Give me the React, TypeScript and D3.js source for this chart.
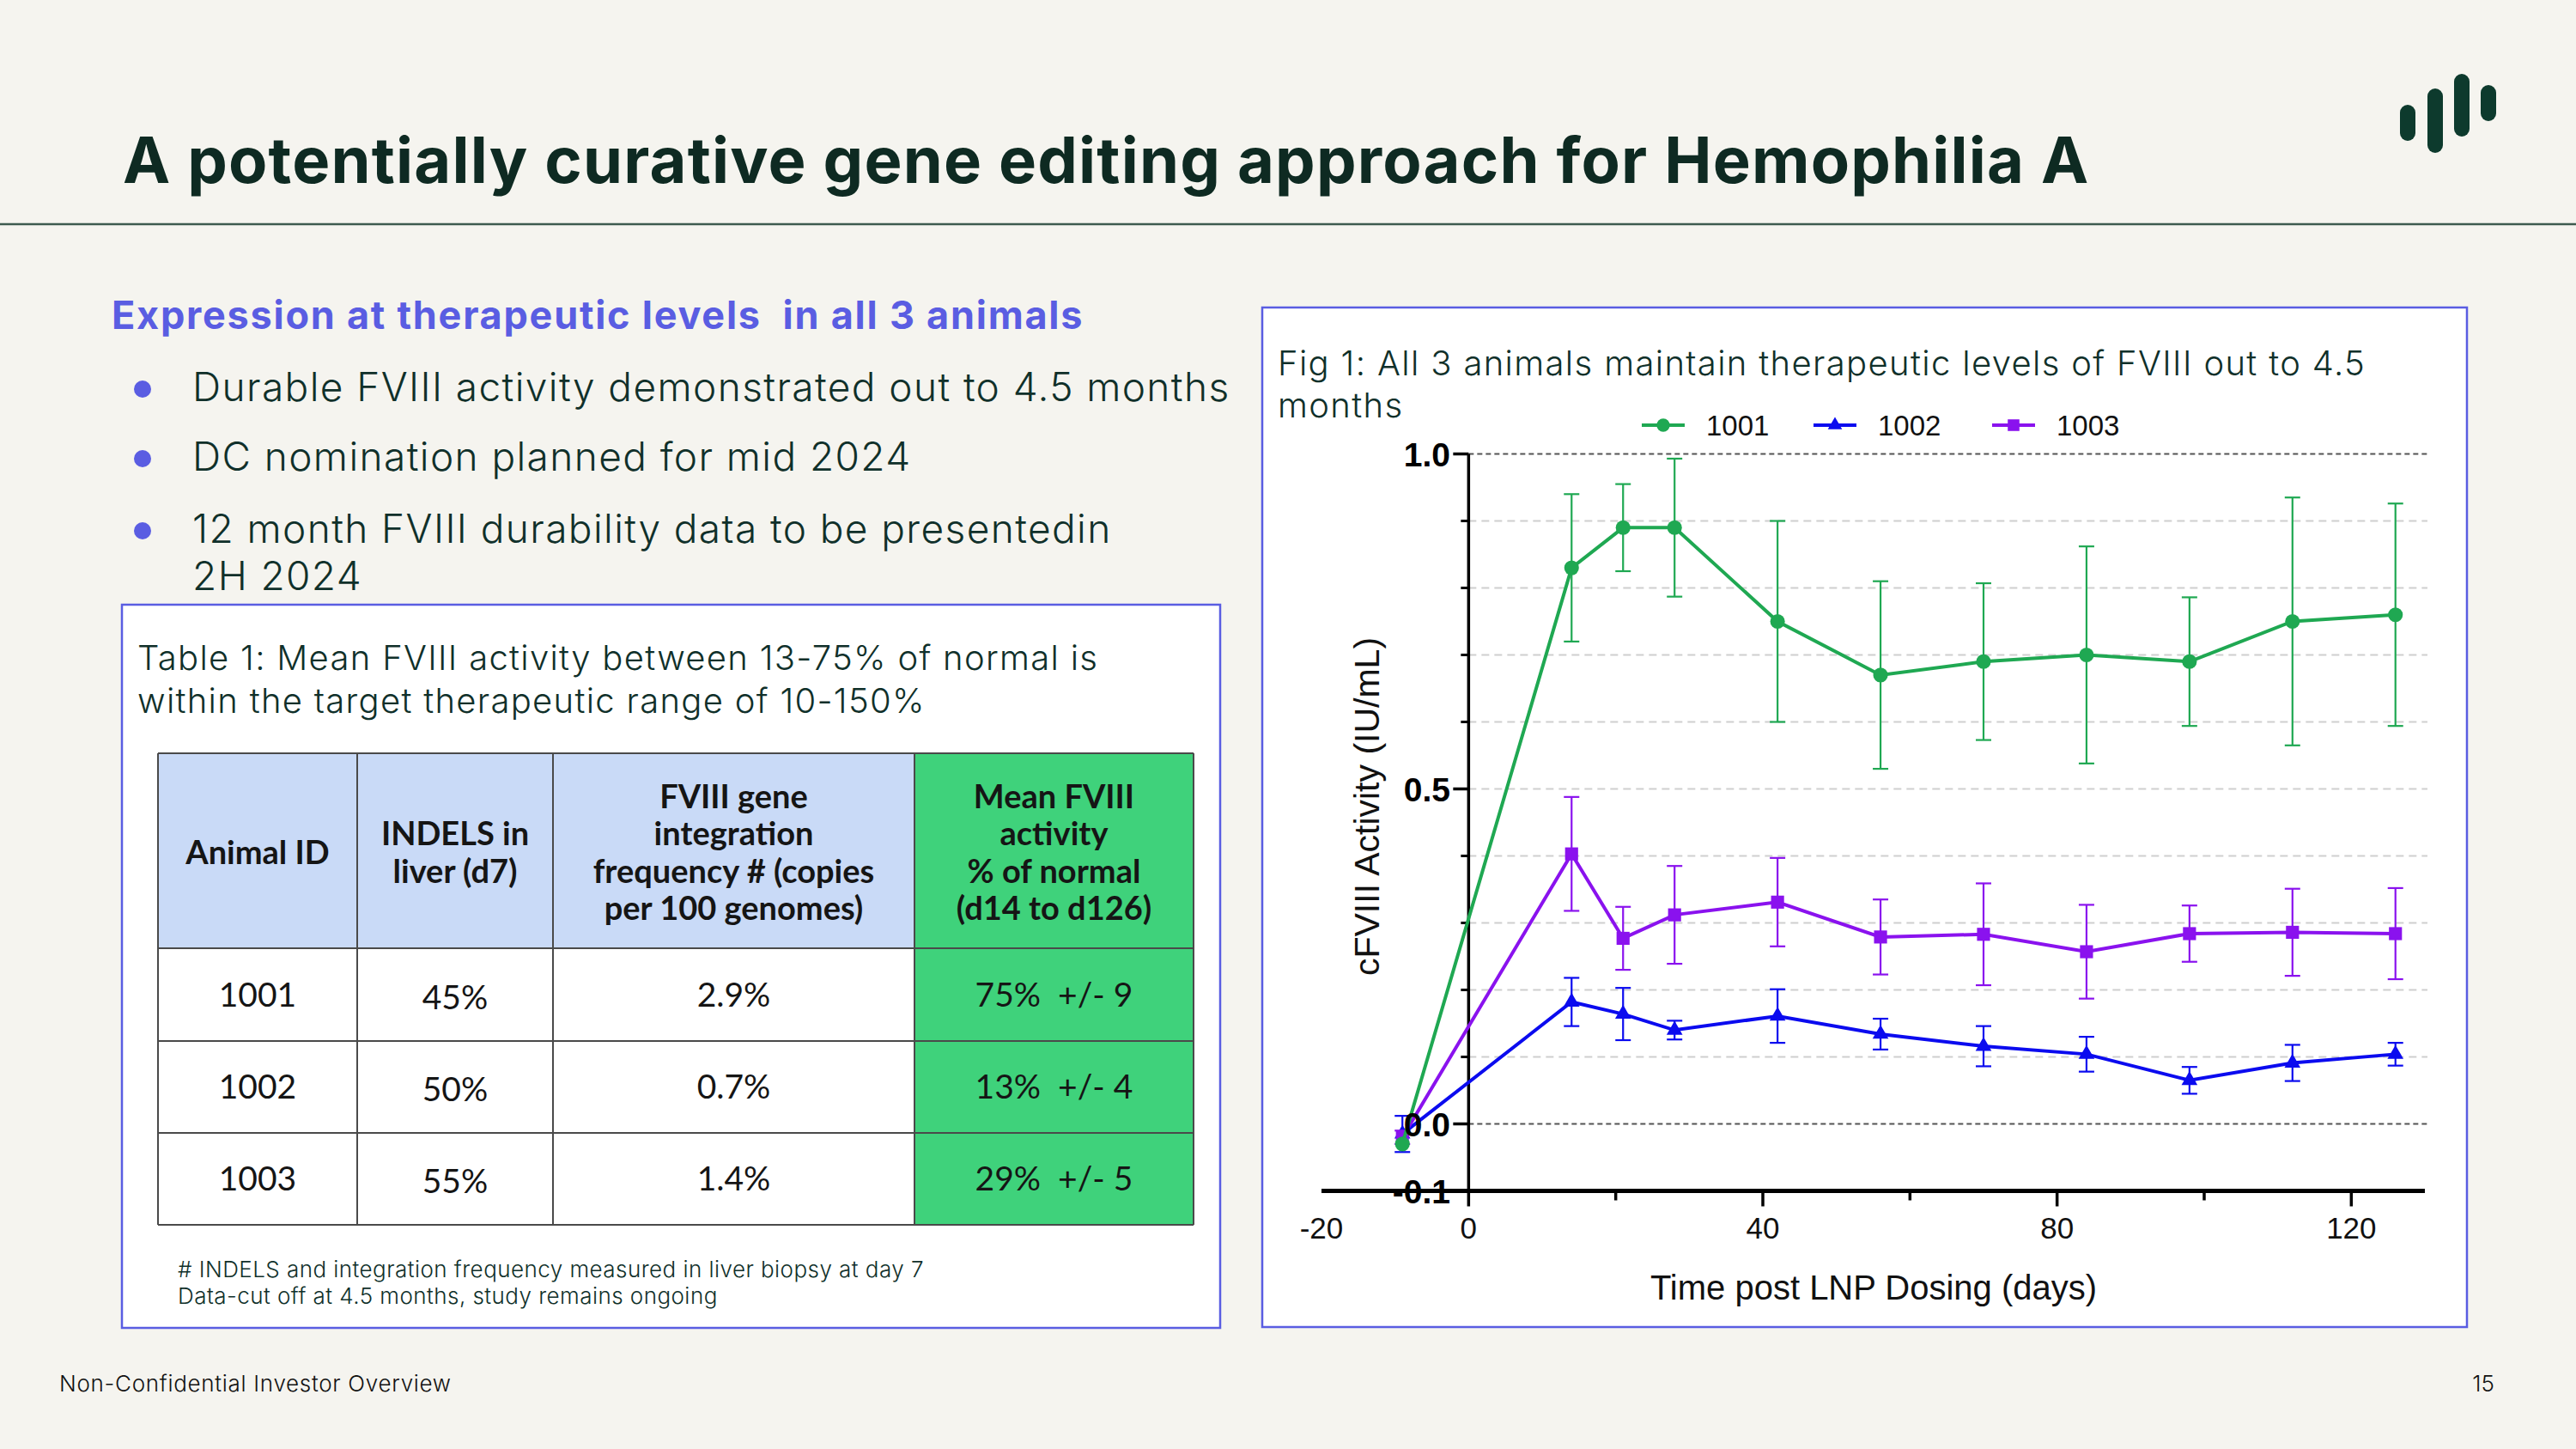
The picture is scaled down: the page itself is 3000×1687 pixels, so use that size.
import React from "react";
import * as d3 from "d3";

// ---- Figure data: cFVIII activity (IU/mL), mean ± SD per animal ----
const days = [-9, 14, 21, 28, 42, 56, 70, 84, 98, 112, 126];
const mean1001 = [-0.03, 0.83, 0.89, 0.89, 0.75, 0.67, 0.69, 0.70, 0.69, 0.75, 0.76];
const sd1001 = [0, 0.11, 0.065, 0.103, 0.15, 0.14, 0.117, 0.162, 0.096, 0.185, 0.166];
const mean1002 = [-0.015, 0.182, 0.164, 0.14, 0.161, 0.134, 0.116, 0.104, 0.065, 0.091, 0.104];
const sd1002 = [0.027, 0.036, 0.039, 0.014, 0.04, 0.023, 0.03, 0.026, 0.02, 0.027, 0.017];
const mean1003 = [-0.02, 0.403, 0.277, 0.312, 0.331, 0.279, 0.283, 0.257, 0.284, 0.286, 0.284];
const sd1003 = [0.01, 0.085, 0.047, 0.073, 0.066, 0.056, 0.076, 0.07, 0.042, 0.065, 0.068];

const seriesNames = ["1001", "1002", "1003"];
const seriesColors = ["#1fa852", "#0b0bef", "#8a12ee"];

const xMajorTicks = [0, 40, 80, 120];
const xMinorTicks = [20, 60, 100];
const yLabelTicks = [-0.1, 0.0, 0.5, 1.0];
const yGridLines = [0.1, 0.2, 0.3, 0.4, 0.5, 0.6, 0.7, 0.8, 0.9];

// ---- Table data ----
const animalIds = ["1001", "1002", "1003"];
const indels = ["45%", "50%", "55%"];
const integration = ["2.9%", "0.7%", "1.4%"];
const meanActivity = ["75%  +/- 9", "13%  +/- 4", "29%  +/- 5"];

const bullets = [
  ["Durable FVIII activity demonstrated out to 4.5 months"],
  ["DC nomination planned for mid 2024"],
  ["12 month FVIII durability data to be presentedin", "2H 2024"],
];

const SLIDE_FONT = "Inter, 'Noto Sans', sans-serif";
const TABLE_FONT = "Lato, 'Noto Sans', sans-serif";
const CHART_FONT = "'Liberation Sans', Arial, sans-serif";
const INK = "#10302a";
const ACCENT = "#5a5de2";

export default function App() {
  const x = d3.scaleLinear().domain([-20, 130]).range([1539, 2824]);
  const y = d3.scaleLinear().domain([-0.1, 1.0]).range([1386.5, 528.5]);

  const series = [
    { name: seriesNames[0], color: seriesColors[0], mean: mean1001, sd: sd1001, sym: d3.symbolCircle, size: 230 },
    { name: seriesNames[1], color: seriesColors[1], mean: mean1002, sd: sd1002, sym: d3.symbolTriangle, size: 150 },
    { name: seriesNames[2], color: seriesColors[2], mean: mean1003, sd: sd1003, sym: d3.symbolSquare, size: 230 },
  ];
  const drawOrder = [series[1], series[2], series[0]];

  const line = d3
    .line<number>()
    .x((_, i) => x(days[i]))
    .y((d) => y(d));

  // table geometry
  const colX = [184, 416, 644, 1065, 1390];
  const rowY = [877, 1104, 1212, 1319, 1426];
  const headerBlue = "#c9daf7";
  const cellGreen = "#3fd27b";

  const headerCols = [
    ["Animal ID"],
    ["INDELS in", "liver (d7)"],
    ["FVIII gene", "integration", "frequency # (copies", "per 100 genomes)"],
    ["Mean FVIII", "activity", "% of normal", "(d14 to d126)"],
  ];
  const bodyCols = [animalIds, indels, integration, meanActivity];

  const legendX = [1937, 2137, 2345];

  return (
    <svg
      width={3000}
      height={1687}
      style={{ position: "absolute", left: 0, top: 0, display: "block" }}
    >
      <rect x={0} y={0} width={3000} height={1687} fill="#f5f4ef" />

      {/* Title */}
      <text x={143} y={213} fontFamily={SLIDE_FONT} fontWeight={700} fontSize={74} letterSpacing={1.2} fill="#0e2a22">
        A potentially curative gene editing approach for Hemophilia A
      </text>
      <line x1={0} x2={3000} y1={261} y2={261} stroke="#3d5a4f" strokeWidth={2.5} />

      {/* Logo */}
      <g fill="#0d3a2d">
        <rect x={2795} y={122} width={18} height={42} rx={9} />
        <rect x={2827} y={103} width={18} height={75} rx={9} />
        <rect x={2858} y={86} width={18} height={73} rx={9} />
        <rect x={2889} y={99} width={18} height={42} rx={9} />
      </g>

      {/* Section heading and bullets */}
      <text x={130} y={383} fontFamily={SLIDE_FONT} fontWeight={700} fontSize={45} letterSpacing={1.75} fill={ACCENT} style={{ whiteSpace: "pre" }}>
        Expression at therapeutic levels  in all 3 animals
      </text>
      {bullets.map((lines, i) => {
        const base = [467, 548, 632][i];
        return (
          <g key={i}>
            <circle cx={166} cy={base - 14} r={10} fill={ACCENT} />
            {lines.map((t, j) => (
              <text key={j} x={224} y={base + j * 55} fontFamily={SLIDE_FONT} fontWeight={300} fontSize={46} letterSpacing={1.4} fill={INK}>
                {t}
              </text>
            ))}
          </g>
        );
      })}

      {/* Table panel */}
      <rect x={142} y={704} width={1279} height={842} fill="#ffffff" stroke={ACCENT} strokeWidth={2.5} />
      <text x={160} y={780} fontFamily={SLIDE_FONT} fontWeight={300} fontSize={40} letterSpacing={1.3} fill={INK}>
        Table 1: Mean FVIII activity between 13-75% of normal is
      </text>
      <text x={160} y={830} fontFamily={SLIDE_FONT} fontWeight={300} fontSize={40} letterSpacing={1.3} fill={INK}>
        within the target therapeutic range of 10-150%
      </text>

      {[0, 1, 2, 3].map((c) => (
        <g key={"col" + c}>
          <rect
            x={colX[c]}
            y={rowY[0]}
            width={colX[c + 1] - colX[c]}
            height={rowY[1] - rowY[0]}
            fill={c === 3 ? cellGreen : headerBlue}
          />
          <rect
            x={colX[c]}
            y={rowY[1]}
            width={colX[c + 1] - colX[c]}
            height={rowY[4] - rowY[1]}
            fill={c === 3 ? cellGreen : "#ffffff"}
          />
        </g>
      ))}
      <g stroke="#4a4a4a" strokeWidth={2}>
        {colX.map((cx, i) => (
          <line key={"v" + i} x1={cx} x2={cx} y1={rowY[0]} y2={rowY[4]} />
        ))}
        {rowY.map((ry, i) => (
          <line key={"h" + i} x1={colX[0]} x2={colX[4]} y1={ry} y2={ry} />
        ))}
      </g>
      {headerCols.map((lines, c) => {
        const cx = (colX[c] + colX[c + 1]) / 2;
        const mid = (rowY[0] + rowY[1]) / 2 + 2;
        const step = 43.5;
        return lines.map((t, j) => (
          <text
            key={c + "-" + j}
            x={cx}
            y={mid + (j - (lines.length - 1) / 2) * step}
            dy="0.35em"
            textAnchor="middle"
            fontFamily={TABLE_FONT}
            fontWeight={700}
            fontSize={38}
            fill="#151515"
          >
            {t}
          </text>
        ));
      })}
      {bodyCols.map((vals, c) =>
        vals.map((t, r) => (
          <text
            key={"b" + c + r}
            x={(colX[c] + colX[c + 1]) / 2}
            y={(rowY[r + 1] + rowY[r + 2]) / 2 + (c === 1 ? 3 : 0)}
            dy="0.35em"
            textAnchor="middle"
            fontFamily={TABLE_FONT}
            fontSize={39}
            fill="#151515"
            style={{ whiteSpace: "pre" }}
          >
            {t}
          </text>
        ))
      )}
      <text x={207} y={1487} fontFamily={SLIDE_FONT} fontWeight={300} fontSize={26} letterSpacing={0.45} fill={INK}>
        # INDELS and integration frequency measured in liver biopsy at day 7
      </text>
      <text x={207} y={1518} fontFamily={SLIDE_FONT} fontWeight={300} fontSize={26} letterSpacing={0.45} fill={INK}>
        Data-cut off at 4.5 months, study remains ongoing
      </text>

      {/* Figure panel */}
      <rect x={1470} y={358} width={1403} height={1187} fill="#ffffff" stroke={ACCENT} strokeWidth={2.5} />
      <text x={1488} y={437} fontFamily={SLIDE_FONT} fontWeight={300} fontSize={40} letterSpacing={1.35} fill={INK}>
        Fig 1: All 3 animals maintain therapeutic levels of FVIII out to 4.5
      </text>
      <text x={1488} y={486} fontFamily={SLIDE_FONT} fontWeight={300} fontSize={40} letterSpacing={1.35} fill={INK}>
        months
      </text>

      {/* Legend */}
      {series.map((s, i) => (
        <g key={"lg" + i} transform={`translate(${legendX[i]},495)`}>
          <line x1={-25} x2={25} y1={0} y2={0} stroke={s.color} strokeWidth={4} />
          <path d={d3.symbol(s.sym, s.size * 0.8)() || ""} fill={s.color} />
          <text x={50} y={0} dy="0.35em" fontFamily={CHART_FONT} fontSize={33} fill="#111">
            {s.name}
          </text>
        </g>
      ))}

      {/* Grid */}
      {yGridLines.map((v) => (
        <line
          key={"g" + v}
          x1={x(0)}
          x2={2827}
          y1={y(v)}
          y2={y(v)}
          stroke="#cfcfcf"
          strokeWidth={1.8}
          strokeDasharray="9,6"
        />
      ))}
      {[0, 1].map((v) => (
        <line
          key={"gd" + v}
          x1={x(0)}
          x2={2827}
          y1={y(v)}
          y2={y(v)}
          stroke="#555"
          strokeWidth={2}
          strokeDasharray="6,4"
        />
      ))}

      {/* Axes */}
      <g stroke="#000">
        <line x1={x(-20)} x2={x(130)} y1={y(-0.1)} y2={y(-0.1)} strokeWidth={5} />
        <line x1={x(0)} x2={x(0)} y1={y(1.0)} y2={y(-0.1)} strokeWidth={3.5} />
        {xMajorTicks.map((t) => (
          <line key={"xt" + t} x1={x(t)} x2={x(t)} y1={y(-0.1)} y2={y(-0.1) + 18} strokeWidth={3.5} />
        ))}
        {xMinorTicks.map((t) => (
          <line key={"xm" + t} x1={x(t)} x2={x(t)} y1={y(-0.1)} y2={y(-0.1) + 11} strokeWidth={3.5} />
        ))}
        {yLabelTicks.map((t) => (
          <line key={"yt" + t} x1={x(0) - 18} x2={x(0)} y1={y(t)} y2={y(t)} strokeWidth={3.5} />
        ))}
        {yGridLines.filter((v) => v !== 0.5).map((t) => (
          <line key={"ym" + t} x1={x(0) - 9} x2={x(0)} y1={y(t)} y2={y(t)} strokeWidth={3} />
        ))}
      </g>
      {xMajorTicks.concat([-20]).map((t) => (
        <text
          key={"xl" + t}
          x={x(t)}
          y={1442}
          textAnchor="middle"
          fontFamily={CHART_FONT}
          fontSize={35}
          fill="#111"
        >
          {t}
        </text>
      ))}
      <text x={2182} y={1513} textAnchor="middle" fontFamily={CHART_FONT} fontSize={40} fill="#111">
        Time post LNP Dosing (days)
      </text>
      <text
        transform={`translate(1606,939) rotate(-90)`}
        textAnchor="middle"
        fontFamily={CHART_FONT}
        fontSize={41}
        fill="#111"
      >
        cFVIII Activity (IU/mL)
      </text>

      {/* Series: error bars, lines, markers */}
      {drawOrder.map((s) => (
        <g key={"s" + s.name}>
          {s.mean.map((m, i) =>
            s.sd[i] > 0 ? (
              <g key={"e" + i} stroke={s.color} strokeWidth={2.2}>
                <line x1={x(days[i])} x2={x(days[i])} y1={y(m + s.sd[i])} y2={y(m - s.sd[i])} />
                <line x1={x(days[i]) - 9} x2={x(days[i]) + 9} y1={y(m + s.sd[i])} y2={y(m + s.sd[i])} />
                <line x1={x(days[i]) - 9} x2={x(days[i]) + 9} y1={y(m - s.sd[i])} y2={y(m - s.sd[i])} />
              </g>
            ) : null
          )}
          <path d={line(s.mean) || ""} fill="none" stroke={s.color} strokeWidth={4} />
          {s.mean.map((m, i) => (
            <path
              key={"m" + i}
              transform={`translate(${x(days[i])},${y(m)})`}
              d={d3.symbol(s.sym, s.size)() || ""}
              fill={s.color}
            />
          ))}
        </g>
      ))}

      {/* Y tick labels drawn over the marks near the origin */}
      {yLabelTicks.map((t) => (
        <text
          key={"yl" + t}
          x={1689}
          y={y(t)}
          dy="0.36em"
          textAnchor="end"
          fontFamily={CHART_FONT}
          fontWeight={700}
          fontSize={39}
          fill="#000"
        >
          {t.toFixed(1)}
        </text>
      ))}

      {/* Footer */}
      <text x={69} y={1620} fontFamily={SLIDE_FONT} fontWeight={300} fontSize={26} letterSpacing={0.7} fill="#111">
        Non-Confidential Investor Overview
      </text>
      <text x={2905} y={1620} textAnchor="end" fontFamily={SLIDE_FONT} fontWeight={300} fontSize={26} fill="#111">
        15
      </text>
    </svg>
  );
}
